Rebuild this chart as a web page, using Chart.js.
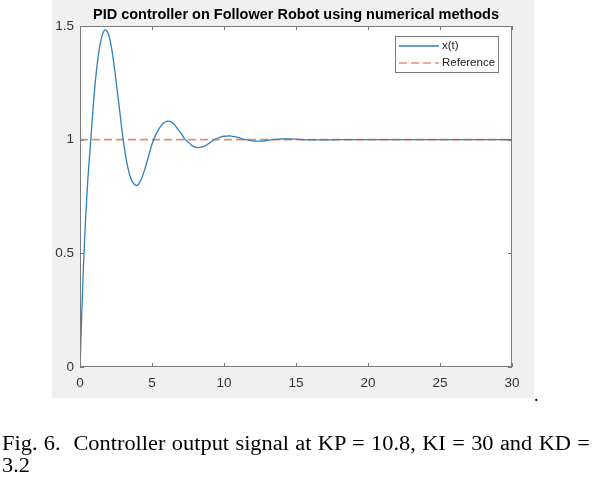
<!DOCTYPE html>
<html><head><meta charset="utf-8">
<script src="https://cdn.jsdelivr.net/npm/chart.js@4.4.0/dist/chart.umd.min.js"></script>
<style>
html,body{margin:0;padding:0;background:#fff;width:596px;height:480px;overflow:hidden;}
#wrap{position:absolute;left:0;top:0;width:596px;height:480px;}
.cap{position:absolute;left:2px;font-family:"Liberation Serif","Times New Roman",serif;font-size:20px;line-height:22px;color:#000;transform:scaleX(1.12);transform-origin:0 0;}
#l1{top:432px;width:525px;text-align:justify;text-align-last:justify;white-space:normal;}
#l2{top:454px;white-space:nowrap;}
#dot{position:absolute;left:534px;top:385px;font-family:"Liberation Serif",serif;font-size:18px;line-height:20px;color:#000;}
</style></head><body>
<div id="wrap"><canvas id="c" width="596" height="480"></canvas></div>
<div class="cap" id="l1">Fig. 6.&nbsp; Controller output signal at KP = 10.8, KI = 30 and KD =</div>
<div class="cap" id="l2">3.2</div>
<div id="dot">.</div>
<script>
const titleText = 'PID controller on Follower Robot using numerical methods';
const seriesNames = ['x(t)', 'Reference'];
const tValues = [0,0.25,0.5,0.75,1,1.25,1.5,1.75,2,2.25,2.5,2.75,3,3.25,3.5,3.75,4,4.25,4.5,4.75,5,5.25,5.5,5.75,6,6.25,6.5,6.75,7,7.25,7.5,7.75,8,8.25,8.5,8.75,9,9.25,9.5,9.75,10,10.25,10.5,10.75,11,11.25,11.5,11.75,12,12.25,12.5,12.75,13,13.25,13.5,13.75,14,14.5,15,15.5,16,17,18,19,20,22,24,26,28,30];
const xValues = [0,0.46,0.78,1.00,1.21,1.36,1.45,1.483,1.46,1.38,1.26,1.13,1.00,0.90,0.835,0.805,0.80,0.825,0.87,0.925,0.98,1.02,1.05,1.07,1.08,1.08,1.07,1.05,1.03,1.005,0.99,0.975,0.967,0.965,0.968,0.975,0.985,0.997,1.005,1.011,1.015,1.016,1.016,1.013,1.009,1.004,1.0,0.997,0.995,0.994,0.994,0.995,0.997,0.999,1.001,1.002,1.003,1.003,1.002,1.0,0.999,0.999,1.0,1.0,1.0,1.0,1.0,1.0,1.0,1.0];
const refT = [0, 30];
const refV = [1, 1];
const xTicks = [0,5,10,15,20,25,30];
const yTicks = [0,0.5,1,1.5];

const blue = '#2a82c2';
const orange = '#e38e70';
const axisCol = '#7a7a7a';
const labelCol = '#333333';

const framePlugin = {
  id: 'frame',
  beforeDraw(chart) {
    const ctx = chart.ctx, a = chart.chartArea;
    ctx.save();
    ctx.fillStyle = '#f0f0f0';
    ctx.fillRect(52, 0, 482, 398);
    ctx.fillStyle = '#ffffff';
    ctx.fillRect(a.left, a.top, a.right - a.left, a.bottom - a.top);
    ctx.restore();
  },
  afterDraw(chart) {
    const ctx = chart.ctx, a = chart.chartArea;
    const xs = chart.scales.x, ys = chart.scales.y;
    ctx.save();
    ctx.strokeStyle = axisCol;
    ctx.lineWidth = 1;
    ctx.strokeRect(Math.round(a.left) + 0.5, Math.round(a.top) + 0.5, Math.round(a.right - a.left) - 1, Math.round(a.bottom - a.top) - 1);
    const tl = 4;
    ctx.beginPath();
    xTicks.forEach(v => {
      const px = Math.round(xs.getPixelForValue(v)) + 0.5;
      ctx.moveTo(px, a.bottom); ctx.lineTo(px, a.bottom - tl);
      ctx.moveTo(px, a.top); ctx.lineTo(px, a.top + tl);
    });
    yTicks.forEach(v => {
      const py = Math.round(ys.getPixelForValue(v)) + 0.5;
      ctx.moveTo(a.left, py); ctx.lineTo(a.left + tl, py);
      ctx.moveTo(a.right, py); ctx.lineTo(a.right - tl, py);
    });
    ctx.stroke();
    // title
    ctx.fillStyle = '#000';
    ctx.font = 'bold 14.5px "Liberation Sans", Arial, sans-serif';
    ctx.textAlign = 'center';
    ctx.textBaseline = 'middle';
    ctx.fillText(titleText, (a.left + a.right) / 2, 15);
    // legend
    const lx = 395.5, ly = 36.5, lw = 103, lh = 36;
    ctx.fillStyle = '#fff';
    ctx.fillRect(lx, ly, lw, lh);
    ctx.strokeStyle = axisCol;
    ctx.strokeRect(lx, ly, lw, lh);
    const ds = chart.data.datasets;
    const rows = [46, 63];
    ds.forEach((d, i) => {
      ctx.strokeStyle = d.borderColor;
      ctx.lineWidth = d.borderWidth;
      ctx.setLineDash(d.borderDash || []);
      ctx.beginPath();
      ctx.moveTo(399, rows[i]); ctx.lineTo(439, rows[i]);
      ctx.stroke();
      ctx.setLineDash([]);
      ctx.fillStyle = '#222';
      ctx.font = '11.5px "Liberation Sans", Arial, sans-serif';
      ctx.textAlign = 'left';
      ctx.textBaseline = 'middle';
      ctx.fillText(d.label, 442, rows[i]);
    });
    ctx.restore();
  }
};

new Chart(document.getElementById('c'), {
  type: 'line',
  data: {
    datasets: [
      {
        label: seriesNames[0],
        data: tValues.map((t, i) => ({x: t, y: xValues[i]})),
        borderColor: blue, borderWidth: 1.3, pointRadius: 0, tension: 0.35, fill: false
      },
      {
        label: seriesNames[1],
        data: refT.map((t, i) => ({x: t, y: refV[i]})),
        borderColor: orange, borderWidth: 1.6, borderDash: [8, 4], pointRadius: 0, fill: false
      }
    ]
  },
  options: {
    responsive: false,
    animation: false,
    events: [],
    layout: {padding: {left: 0, right: 84, top: 26, bottom: 83}},
    plugins: {legend: {display: false}, title: {display: false}, tooltip: {enabled: false}},
    scales: {
      x: {
        type: 'linear', min: 0, max: 30,
        afterBuildTicks: s => { s.ticks = xTicks.map(v => ({value: v})); },
        afterFit: s => { s.height = 30; },
        grid: {display: false, drawTicks: false},
        border: {display: false},
        ticks: {padding: 8, color: labelCol, maxRotation: 0, autoSkip: false,
          callback: v => String(v),
          font: {family: '"Liberation Sans", Arial, sans-serif', size: 13.5}}
      },
      y: {
        type: 'linear', min: 0, max: 1.5,
        afterBuildTicks: s => { s.ticks = yTicks.map(v => ({value: v})); },
        afterFit: s => { s.width = 80; },
        grid: {display: false, drawTicks: false},
        border: {display: false},
        ticks: {padding: 6, color: labelCol, autoSkip: false,
          callback: v => String(v),
          font: {family: '"Liberation Sans", Arial, sans-serif', size: 13.5}}
      }
    }
  },
  plugins: [framePlugin]
});
</script>
</body></html>
